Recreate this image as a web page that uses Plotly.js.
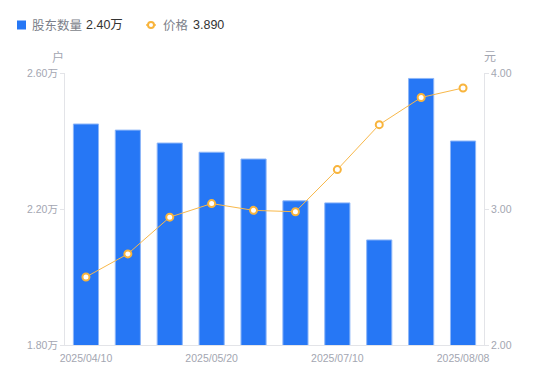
<!DOCTYPE html>
<html>
<head>
<meta charset="utf-8">
<script src="https://cdn.plot.ly/plotly-3.0.1.min.js"></script>
<style>html,body{margin:0;padding:0;background:#fff;}#chart{width:550px;height:381px;}</style>
</head>
<body>
<div id="chart"></div>
<script>
var dates = ["2025/04/10","2025/04/18","2025/04/30","2025/05/20","2025/05/30","2025/06/20","2025/07/10","2025/07/20","2025/07/31","2025/08/08"];
var holders = [2.450, 2.432, 2.394, 2.367, 2.347, 2.224, 2.218, 2.109, 2.584, 2.400];
var prices = [2.50, 2.67, 2.94, 3.04, 2.99, 2.98, 3.29, 3.62, 3.82, 3.89];
var xTickLabels = ["2025/04/10","2025/05/20","2025/07/10","2025/08/08"];
var leftTicks = [1.8, 2.2, 2.6];
var rightTicks = [2, 3, 4];

var FONT = "'Liberation Sans', 'Noto Sans CJK SC', sans-serif";
var GRAY = "#A3A6B1";
var AXIS = "#E3E4E8";

var bar = {
  type: "bar", x: dates, y: holders, name: "股东数量",
  marker: {color: "#2677F5", line: {color: "#8DB6F8", width: 1}},
  hoverinfo: "skip", showlegend: false
};
var line = {
  type: "scatter", mode: "lines+markers", x: dates, y: prices, yaxis: "y2", name: "价格",
  line: {color: "#F8B84A", width: 1},
  marker: {symbol: "circle", size: 7, color: "#ffffff", line: {color: "#F8B43C", width: 2}},
  hoverinfo: "skip", showlegend: false, cliponaxis: false
};

var lastH = holders[holders.length - 1].toFixed(2) + "万";
var lastP = prices[prices.length - 1].toFixed(3);

var layout = {
  width: 550, height: 381,
  margin: {l: 65, r: 66, t: 73, b: 36, autoexpand: false},
  paper_bgcolor: "#fff", plot_bgcolor: "#fff",
  font: {family: FONT, size: 11, color: GRAY},
  bargap: 0.4,
  xaxis: {
    type: "category", range: [-0.5, dates.length - 0.5], tickmode: "array", tickvals: xTickLabels, ticktext: xTickLabels,
    showline: true, linecolor: AXIS, linewidth: 1, ticks: "", showgrid: false, zeroline: false,
    tickfont: {size: 10.5, color: GRAY}, automargin: false, ticklabelstandoff: 3
  },
  yaxis: {
    range: [1.8, 2.6], tickmode: "array", tickvals: leftTicks,
    ticktext: leftTicks.map(function(v){return v.toFixed(2) + "万";}),
    showline: true, linecolor: AXIS, linewidth: 1, ticks: "outside", ticklen: 4, tickcolor: AXIS,
    showgrid: false, zeroline: false, tickfont: {size: 10.5, color: GRAY}, automargin: false
  },
  yaxis2: {
    range: [2, 4], overlaying: "y", side: "right", tickmode: "array", tickvals: rightTicks,
    ticktext: rightTicks.map(function(v){return v.toFixed(2);}),
    showline: true, linecolor: AXIS, linewidth: 1, ticks: "outside", ticklen: 4, tickcolor: AXIS,
    showgrid: false, zeroline: false, tickfont: {size: 10.5, color: GRAY}, automargin: false
  },
  shapes: [
    {type: "rect", xref: "paper", yref: "paper", xsizemode: "pixel", ysizemode: "pixel", xanchor: 0, yanchor: 1,
     x0: -48, x1: -39, y0: 52.5, y1: 43.5, fillcolor: "#2677F5", line: {width: 0}},
    {type: "line", xref: "paper", yref: "paper", xsizemode: "pixel", ysizemode: "pixel", xanchor: 0, yanchor: 1,
     x0: 81, x1: 91, y0: 48, y1: 48, line: {color: "#F8B84A", width: 1.5}},
    {type: "circle", xref: "paper", yref: "paper", xsizemode: "pixel", ysizemode: "pixel", xanchor: 0, yanchor: 1,
     x0: 83, x1: 89, y0: 51, y1: 45, fillcolor: "#fff", line: {color: "#F8B43C", width: 2}}
  ],
  annotations: [
    {xref: "paper", yref: "paper", x: 0, y: 1, xanchor: "left", yanchor: "middle", xshift: -35, yshift: 48,
     text: "股东数量", showarrow: false, font: {size: 12.5, family: FONT, color: "#7C7F8A"}},
    {xref: "paper", yref: "paper", x: 0, y: 1, xanchor: "left", yanchor: "middle", xshift: 19, yshift: 48,
     text: lastH, showarrow: false, font: {size: 12.5, family: FONT, color: "#333"}},
    {xref: "paper", yref: "paper", x: 0, y: 1, xanchor: "left", yanchor: "middle", xshift: 96, yshift: 48,
     text: "价格", showarrow: false, font: {size: 12.5, family: FONT, color: "#7C7F8A"}},
    {xref: "paper", yref: "paper", x: 0, y: 1, xanchor: "left", yanchor: "middle", xshift: 126, yshift: 48,
     text: lastP, showarrow: false, font: {size: 12.5, family: FONT, color: "#333"}},
    {xref: "paper", yref: "paper", x: 0, y: 1, xanchor: "center", yanchor: "middle", xshift: -7, yshift: 16,
     text: "户", showarrow: false, font: {size: 12, color: GRAY, family: FONT}},
    {xref: "paper", yref: "paper", x: 1, y: 1, xanchor: "center", yanchor: "middle", xshift: 6, yshift: 16,
     text: "元", showarrow: false, font: {size: 12, color: GRAY, family: FONT}}
  ]
};

Plotly.newPlot("chart", [bar, line], layout, {displayModeBar: false, staticPlot: true});
</script>
</body>
</html>
